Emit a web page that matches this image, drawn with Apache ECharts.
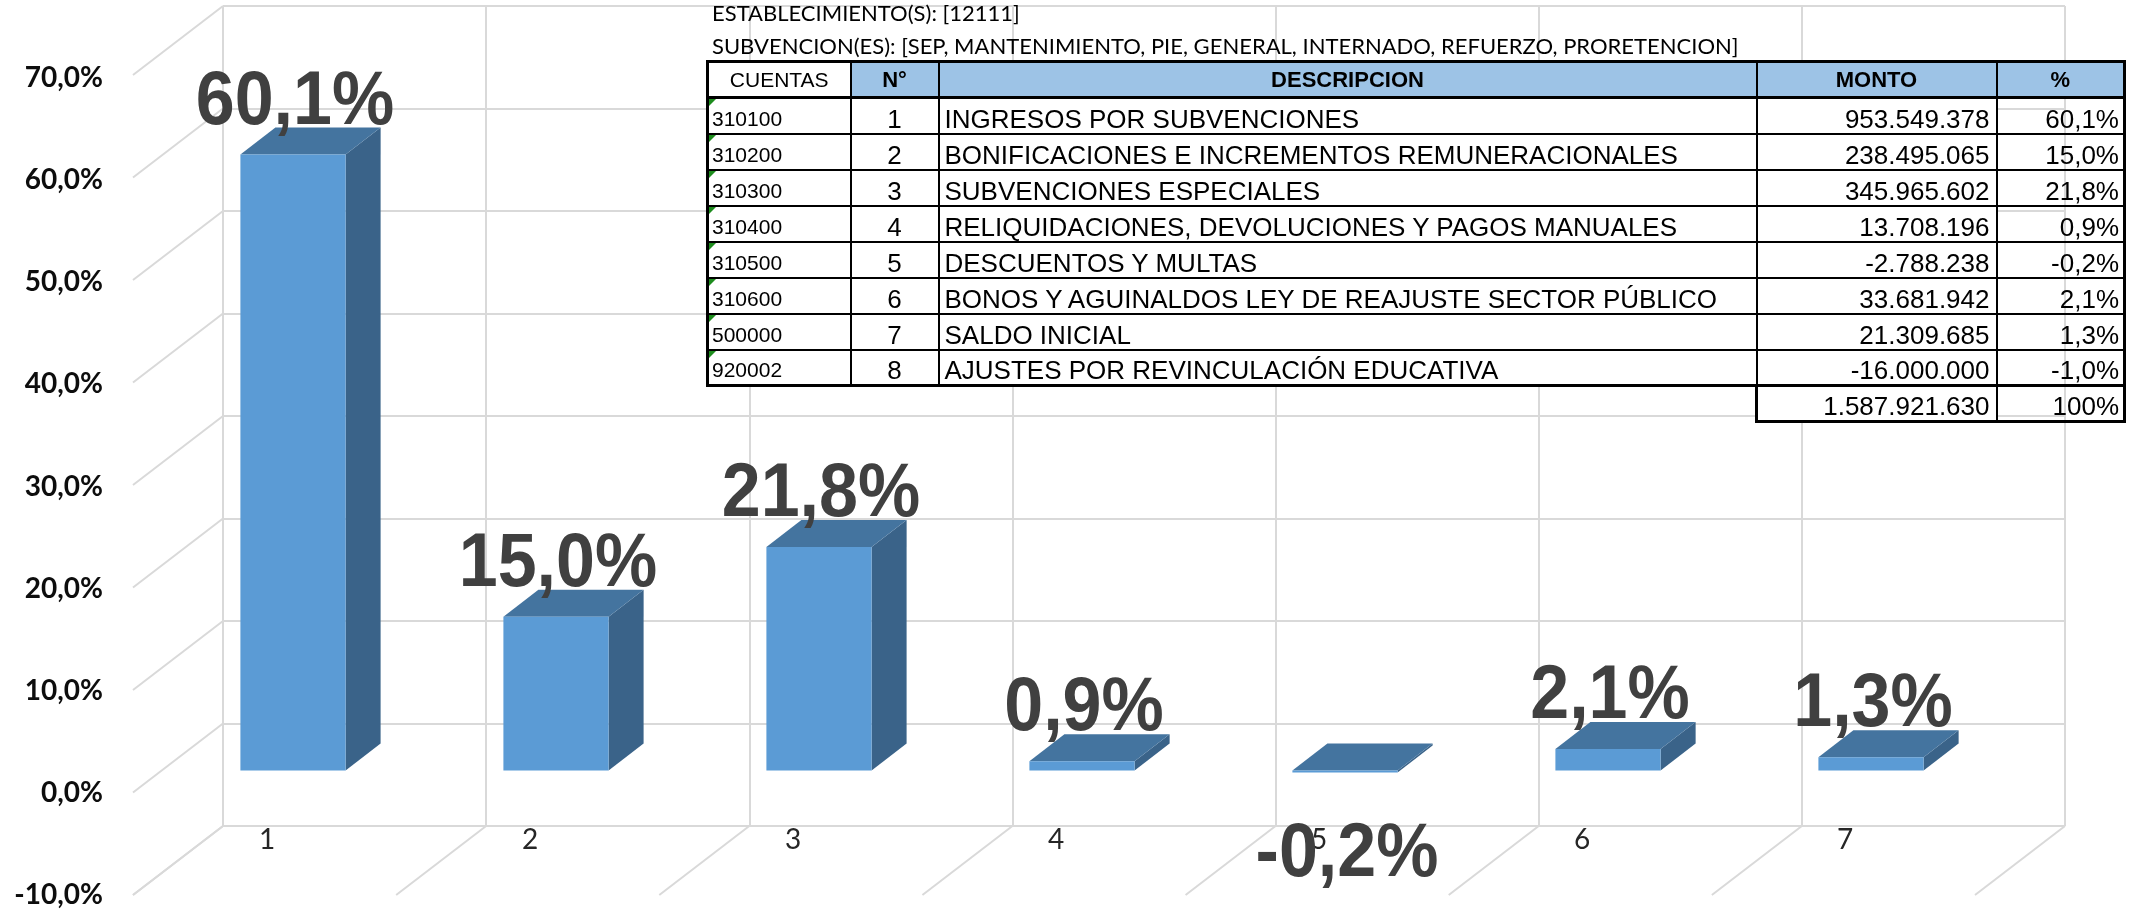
<!DOCTYPE html>
<html>
<head>
<meta charset="utf-8">
<script src="https://cdn.jsdelivr.net/npm/echarts@6/dist/echarts.min.js"></script>
<style>
	html, body { margin:0; padding:0; background:#fff; }
	#main { position:absolute; left:0; top:0; width:2144px; height:909px; z-index:1; }
	.tit { position:absolute; left:712px; font-family:Lato, sans-serif; font-size:22px; line-height:24px; color:#000; white-space:nowrap; z-index:2; }
	#tabla { position:absolute; left:706px; top:60px; border-collapse:collapse; table-layout:fixed; z-index:2;
		font-family:"Liberation Sans", Arial, sans-serif; color:#000; }
	#tabla tr { height:36px; }
	#tabla td { border:2px solid #000; height:34px; box-sizing:border-box; padding:0 5px 0 5px; font-size:26px; line-height:28px;
		vertical-align:bottom; white-space:nowrap; overflow:hidden; background:#fff; }
	#tabla tr.cab td { background:#9dc3e6; font-weight:bold; font-size:22px; text-align:center; vertical-align:middle; border-bottom:3px solid #000; border-top:3px solid #000; }
	#tabla tr.cab td.cuentas { background:#fff; font-weight:normal; font-size:21px; }
	#tabla td.cod { font-size:21px; padding-left:3px; position:relative; }
	#tabla td.cod::before { content:''; position:absolute; left:0; top:0; border-top:7px solid #1d8c1d; border-right:7px solid transparent; }
	#tabla td.num { text-align:center; }
	#tabla td.monto { text-align:right; padding-right:6px; }
	#tabla td.pct { text-align:right; padding-right:4px; background:transparent; }
	#tabla td.izq { border-left:3px solid #000; }
	#tabla td.der { border-right:3px solid #000; }
	#tabla tr.ult td { border-bottom:3px solid #000; }
	#tabla tr.total td { border-bottom:3px solid #000; }
	#tabla tr.total td.vacio { border-left:none; border-right:none; border-bottom:none; background:transparent; }
</style>
</head>
<body>
<div id="main"></div>
<div class="tit" style="top:1px">ESTABLECIMIENTO(S): [12111]</div>
<div class="tit" style="top:34px">SUBVENCION(ES): [SEP, MANTENIMIENTO, PIE, GENERAL, INTERNADO, REFUERZO, PRORETENCION]</div>
<table id="tabla">
	<colgroup><col style="width:143px"><col style="width:88px"><col style="width:818px"><col style="width:240px"><col style="width:128px"></colgroup>
	<tbody id="cuerpo"></tbody>
</table>
<script type="text/javascript">

// datos del grafico
var categorias = ['1', '2', '3', '4', '5', '6', '7'];
var porcentajes = [60.1, 15.0, 21.8, 0.9, -0.2, 2.1, 1.3];
var ejeY = [-10, 0, 10, 20, 30, 40, 50, 60, 70];

// datos de la tabla
var cuentas = ['310100', '310200', '310300', '310400', '310500', '310600', '500000', '920002'];
var numeros = [1, 2, 3, 4, 5, 6, 7, 8];
var descripciones = [
	'INGRESOS POR SUBVENCIONES',
	'BONIFICACIONES E INCREMENTOS REMUNERACIONALES',
	'SUBVENCIONES ESPECIALES',
	'RELIQUIDACIONES, DEVOLUCIONES Y PAGOS MANUALES',
	'DESCUENTOS Y MULTAS',
	'BONOS Y AGUINALDOS LEY DE REAJUSTE SECTOR PÚBLICO',
	'SALDO INICIAL',
	'AJUSTES POR REVINCULACIÓN EDUCATIVA'
];
var montos = [953549378, 238495065, 345965602, 13708196, -2788238, 33681942, 21309685, -16000000];
var porcentajesTabla = [60.1, 15.0, 21.8, 0.9, -0.2, 2.1, 1.3, -1.0];
var totalMonto = 1587921630;
var totalPct = '100%';

var miles = (n) => (n < 0 ? '-' : '') + Math.abs(n).toString().replace(/\B(?=(\d{3})+(?!\d))/g, '.');
var pct = (v) => v.toFixed(1).replace('.', ',') + '%';

// tabla
var html = '<tr class="cab"><td class="cuentas izq">CUENTAS</td><td>N°</td><td>DESCRIPCION</td><td>MONTO</td><td class="der">%</td></tr>';
for (var i = 0; i < cuentas.length; i++) {
	html += '<tr' + (i == cuentas.length - 1 ? ' class="ult"' : '') + '>' +
		'<td class="cod izq">' + cuentas[i] + '</td>' +
		'<td class="num">' + numeros[i] + '</td>' +
		'<td>' + descripciones[i] + '</td>' +
		'<td class="monto">' + miles(montos[i]) + '</td>' +
		'<td class="pct der">' + pct(porcentajesTabla[i]) + '</td></tr>';
}
html += '<tr class="total"><td class="vacio"></td><td class="vacio"></td><td class="vacio"></td>' +
	'<td class="monto izq">' + miles(totalMonto) + '</td><td class="pct der">' + totalPct + '</td></tr>';
document.getElementById('cuerpo').innerHTML = html;

// perspectiva: pared del fondo -> borde frontal, y profundidad de las barras
var DX = -90, DY = 69;
var BDX = 35, BDY = -27;
var gris = '#d9d9d9';

var myChart = echarts.init(document.getElementById('main'));

var option = {
	animation: false,
	backgroundColor: 'transparent',
	grid: [
		{left: 161.5, right: 141.5, top: 53, bottom: 36},   // cara frontal de las barras
		{left: 223, right: 79, top: 6, bottom: 83},         // pared del fondo
		{left: 133, right: 100, top: 78, bottom: 13},       // etiquetas eje Y
		{left: 161.5, right: 141.5, top: 0, bottom: 94}     // etiquetas categorias
	],
	xAxis: [
		{gridIndex: 0, type: 'category', data: categorias, show: false},
		{gridIndex: 1, type: 'category', data: categorias,
			axisLine: {show: false}, axisTick: {show: false}, axisLabel: {show: false},
			splitLine: {show: true, interval: 0, lineStyle: {color: gris, width: 2}}},
		{gridIndex: 2, type: 'category', data: categorias, show: false},
		{gridIndex: 3, type: 'category', data: categorias,
			axisLine: {show: false}, axisTick: {show: false},
			axisLabel: {margin: 11, fontFamily: 'Lato', fontSize: 28, color: '#262626', padding: [0, 52, 0, 0]}}
	],
	yAxis: [
		{gridIndex: 0, type: 'value', min: ejeY[0], max: ejeY[ejeY.length - 1], show: false},
		{gridIndex: 1, type: 'value', min: ejeY[0], max: ejeY[ejeY.length - 1], interval: 10,
			axisLine: {show: false}, axisTick: {show: false}, axisLabel: {show: false},
			splitLine: {lineStyle: {color: gris, width: 2}}},
		{gridIndex: 2, type: 'value', min: ejeY[0], max: ejeY[ejeY.length - 1], interval: 10,
			axisLine: {show: false}, axisTick: {show: false}, splitLine: {show: false},
			axisLabel: {margin: 30, fontFamily: 'Lato', fontWeight: 'bold', fontSize: 28, color: '#0d0d0d',
				formatter: (v) => pct(v)}},
		{gridIndex: 3, type: 'value', min: 0, max: 1, show: false}
	],
	series: [
		{
			// lineas diagonales de la pared lateral
			type: 'custom', xAxisIndex: 1, yAxisIndex: 1, silent: true, z: 1,
			data: ejeY.map((v) => [0, v]),
			renderItem: function (params, api) {
				var p = api.coord([0, api.value(1)]);
				var x0 = p[0] - api.size([1, 0])[0] / 2;
				return {type: 'line', shape: {x1: x0, y1: p[1], x2: x0 + DX, y2: p[1] + DY},
					style: {stroke: gris, lineWidth: 2}};
			}
		},
		{
			// lineas diagonales del piso
			type: 'custom', xAxisIndex: 1, yAxisIndex: 1, silent: true, z: 1,
			data: categorias.concat(['']).map((c, k) => [0, ejeY[0], k]),
			renderItem: function (params, api) {
				var p = api.coord([0, api.value(1)]);
				var band = api.size([1, 0])[0];
				var x = p[0] - band / 2 + api.value(2) * band;
				return {type: 'line', shape: {x1: x, y1: p[1], x2: x + DX, y2: p[1] + DY},
					style: {stroke: gris, lineWidth: 2}};
			}
		},
		{
			// barras 3D
			type: 'custom', xAxisIndex: 0, yAxisIndex: 0, z: 3,
			data: porcentajes.map((v, i) => [i, v]),
			renderItem: function (params, api) {
				var i = api.value(0), v = api.value(1);
				var p0 = api.coord([i, 0]), p1 = api.coord([i, v]);
				var bw = api.size([1, 0])[0] * 0.4;
				var xl = p0[0] - bw / 2, xr = p0[0] + bw / 2;
				var yHi = Math.min(p0[1], p1[1]), yLo = Math.max(p0[1], p1[1]);
				return {
					type: 'group',
					children: [
						{type: 'polygon', shape: {points: [[xr, yHi], [xr + BDX, yHi + BDY], [xr + BDX, yLo + BDY], [xr, yLo]]},
							style: {fill: '#3a6389'}},
						{type: 'polygon', shape: {points: [[xl, yHi], [xl + BDX, yHi + BDY], [xr + BDX, yHi + BDY], [xr, yHi]]},
							style: {fill: '#44749f'}},
						{type: 'rect', shape: {x: xl, y: yHi, width: bw, height: yLo - yHi},
							style: {fill: '#5b9bd5'}},
						{type: 'text', x: p0[0] + 2, y: v >= 0 ? yHi + BDY + 13 : yLo + 45, scaleY: 1.08,
							style: {text: pct(v), fill: '#404040', font: 'bold 70px "Liberation Sans"',
								align: 'center', verticalAlign: v >= 0 ? 'bottom' : 'top'}}
					]
				};
			}
		}
	]
};

myChart.setOption(option);
</script>
</body>
</html>
